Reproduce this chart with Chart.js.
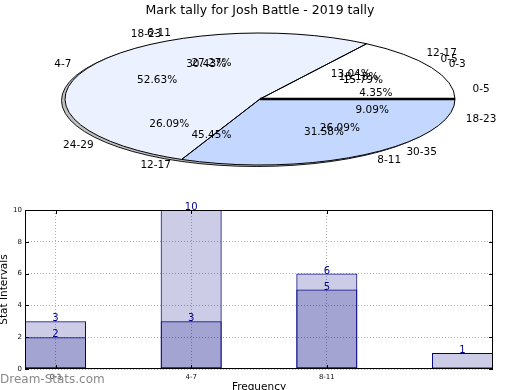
<!DOCTYPE html>
<html>
<head>
<meta charset="utf-8">
<script src="https://cdn.jsdelivr.net/npm/chart.js@4.4.0/dist/chart.umd.min.js"></script>
<style>
  body { margin: 0; background: #fff; width: 520px; height: 390px; overflow: hidden; position: relative; }
  #pie { position: absolute; left: 0; top: 0; }
  #bar { position: absolute; left: 0; top: 195px; }
  #mark { position: absolute; left: 0; top: 372px; color: #8a8a8a; font: 12px "DejaVu Sans"; }
</style>
</head>
<body>
<canvas id="pie" width="520" height="195"></canvas>
<canvas id="bar" width="520" height="195"></canvas>
<div id="mark">Dream-Stats.com</div>
<script>
// pie data (three tallies drawn on top of each other)
const pieLabelsA = ['0-5', '6-11', '12-17', '18-23'];
const pieValuesA = [2, 3, 5, 1];
const pieLabelsC = ['0-5', '12-17', '18-23', '24-29', '30-35'];
const pieValuesC = [1, 3, 7, 6, 6];
const pieLabelsB = ['0-3', '4-7', '8-11'];
const pieValuesB = [3, 10, 6];

// bar data
const barCategories = ['0-3', '4-7', '8-11'];
const barSeriesA = [2, 3, 5, 1];
const barSeriesB = [3, 10, 6];
const yTicks = [0, 2, 4, 6, 8, 10];

const pieColors = ['#ffffff', '#ebf1ff', '#c3d7ff'];
const CX = 260, CY = 99, RX = 195, RY = 66;
const TAU = Math.PI * 2;

Chart.defaults.font.family = '"DejaVu Sans"';

function squash(ctx) {
    ctx.translate(CX, CY);
    ctx.scale(1, -RY / RX);
    ctx.translate(-CX, -CY);
}

// draws the pie as a flattened ellipse, like the original
const squashPie = {
    id: 'squashPie',
    beforeDatasetsDraw(chart) {
        const ctx = chart.ctx;
        chart.data.datasets.forEach((ds, i) => {
            chart.getDatasetMeta(i).data.forEach(arc => {
                arc.x = CX; arc.y = CY;
                arc.innerRadius = 0; arc.outerRadius = RX;
            });
        });
        // shadow
        ctx.save();
        ctx.beginPath();
        ctx.ellipse(CX - 3.5, CY + 1.5, RX, RY, 0, 0, TAU);
        ctx.fillStyle = 'rgba(0,0,0,0.25)';
        ctx.fill();
        ctx.strokeStyle = 'rgba(0,0,0,0.9)';
        ctx.lineWidth = 1;
        ctx.stroke();
        ctx.restore();
    },
    beforeDatasetDraw(chart) {
        chart.ctx.save();
        squash(chart.ctx);
    },
    afterDatasetDraw(chart) {
        chart.ctx.restore();
    },
    afterDatasetsDraw(chart) {
        const ctx = chart.ctx;
        // outlines of the top pie
        ctx.save();
        ctx.strokeStyle = '#000';
        ctx.lineWidth = 1;
        chart.getDatasetMeta(0).data.forEach(arc => {
            ctx.save();
            squash(ctx);
            ctx.beginPath();
            ctx.moveTo(CX, CY);
            ctx.arc(CX, CY, RX, arc.startAngle, arc.endAngle);
            ctx.closePath();
            ctx.restore();
            ctx.stroke();
        });
        // the shared zero edge is drawn by every pie, so it looks heavier
        ctx.lineWidth = 2.5;
        ctx.beginPath();
        ctx.moveTo(CX, CY);
        ctx.lineTo(CX + RX, CY);
        ctx.stroke();
        ctx.restore();

        // labels for every pie
        ctx.save();
        ctx.font = '10.5px "DejaVu Sans"';
        ctx.fillStyle = '#000';
        ctx.textBaseline = 'middle';
        for (let i = chart.data.datasets.length - 1; i >= 0; i--) {
            const ds = chart.data.datasets[i];
            chart.getDatasetMeta(i).data.forEach((arc, j) => {
                const mid = (arc.startAngle + arc.endAngle) / 2;
                const c = Math.cos(mid), s = Math.sin(mid);
                ctx.textAlign = c > 0 ? 'left' : 'right';
                ctx.fillText(ds.sliceLabels[j], CX + 1.1 * RX * c, CY - 1.1 * RY * s);
                ctx.textAlign = 'center';
                const pct = (arc.circumference / TAU * 100).toFixed(2) + '%';
                ctx.fillText(pct, CX + 0.6 * RX * c, CY - 0.6 * RY * s);
            });
        }
        ctx.restore();
    }
};

new Chart(document.getElementById('pie'), {
    type: 'pie',
    data: {
        labels: pieLabelsC,
        datasets: [
            { data: pieValuesB, sliceLabels: pieLabelsB, backgroundColor: pieColors, borderWidth: 0, clip: false },
            { data: pieValuesC, sliceLabels: pieLabelsC, backgroundColor: pieColors, borderWidth: 0, clip: false },
            { data: pieValuesA, sliceLabels: pieLabelsA, backgroundColor: pieColors, borderWidth: 0, clip: false }
        ]
    },
    options: {
        responsive: false,
        animation: false,
        events: [],
        rotation: 90,
        plugins: {
            legend: { display: false },
            tooltip: { enabled: false },
            title: {
                display: true,
                text: 'Mark tally for Josh Battle - 2019 tally',
                color: '#000',
                font: { size: 12.5, weight: 'normal' },
                padding: { top: 3, bottom: 0 }
            }
        }
    },
    plugins: [squashPie]
});

// value labels above each bar
const barValueLabels = {
    id: 'barValueLabels',
    afterDatasetsDraw(chart) {
        const ctx = chart.ctx;
        ctx.save();
        ctx.font = '10px "DejaVu Sans"';
        ctx.fillStyle = '#00008b';
        ctx.textAlign = 'center';
        ctx.textBaseline = 'alphabetic';
        chart.data.datasets.forEach((ds, i) => {
            chart.getDatasetMeta(i).data.forEach((bar, j) => {
                const v = ds.data[j].y;
                if (v == null) return;
                ctx.fillText(String(v), bar.x, bar.y);
            });
        });
        ctx.restore();
    }
};

// black frame with inward ticks
const frame = {
    id: 'frame',
    afterDraw(chart) {
        const { ctx, chartArea: a, scales } = chart;
        ctx.save();
        ctx.strokeStyle = '#000';
        ctx.lineWidth = 1;
        ctx.strokeRect(a.left + 0.5, a.top + 0.5, a.right - a.left - 1, a.bottom - a.top - 1);
        ctx.beginPath();
        yTicks.forEach(v => {
            const y = Math.round(scales.y.getPixelForValue(v)) + 0.5;
            ctx.moveTo(a.left, y); ctx.lineTo(a.left + 4, y);
            ctx.moveTo(a.right, y); ctx.lineTo(a.right - 4, y);
        });
        barCategories.forEach((c, i) => {
            const x = Math.round(scales.x.getPixelForValue(i)) + 0.5;
            ctx.moveTo(x, a.top); ctx.lineTo(x, a.top + 4);
            ctx.moveTo(x, a.bottom); ctx.lineTo(x, a.bottom - 4);
        });
        ctx.stroke();
        ctx.restore();
    }
};

const barFill = 'rgba(0,0,128,0.2)';

new Chart(document.getElementById('bar'), {
    type: 'bar',
    data: {
        datasets: [
            { data: barSeriesB.map((v, i) => ({ x: i, y: v })), backgroundColor: barFill, borderColor: '#000080', borderWidth: 1, borderSkipped: false },
            { data: barSeriesA.map((v, i) => ({ x: i, y: v })), backgroundColor: barFill, borderColor: '#000080', borderWidth: 1, borderSkipped: false }
        ]
    },
    options: {
        responsive: false,
        animation: false,
        events: [],
        grouped: false,
        barPercentage: 0.45,
        categoryPercentage: 1,
        layout: { padding: { left: 0, top: 15, right: 27, bottom: 0 } },
        plugins: { legend: { display: false }, tooltip: { enabled: false } },
        scales: {
            x: {
                type: 'linear',
                offset: false,
                min: -0.225,
                max: 3.225,
                afterBuildTicks: s => { s.ticks = barCategories.map((c, i) => ({ value: i })); },
                afterFit: s => { s.height = 21; },
                ticks: { callback: v => barCategories[v], color: '#111', font: { size: 7 }, padding: 4, maxRotation: 0 },
                grid: { color: '#b0b0b0', drawTicks: false, offset: false },
                border: { display: false, dash: [1, 2] },
                title: { display: true, text: 'Frequency', color: '#000', font: { size: 10.5 }, padding: { top: 0, bottom: -4 } }
            },
            y: {
                min: 0,
                max: 10,
                afterBuildTicks: s => { s.ticks = yTicks.map(v => ({ value: v })); },
                afterFit: s => { s.width = 25; },
                ticks: { color: '#111', font: { size: 7 }, padding: 3 },
                grid: { color: '#b0b0b0', drawTicks: false },
                border: { display: false, dash: [1, 2] },
                title: { display: true, text: 'Stat Intervals', color: '#000', font: { size: 10.5 }, padding: { top: -2, bottom: 0 } }
            }
        }
    },
    plugins: [barValueLabels, frame]
});
</script>
</body>
</html>
